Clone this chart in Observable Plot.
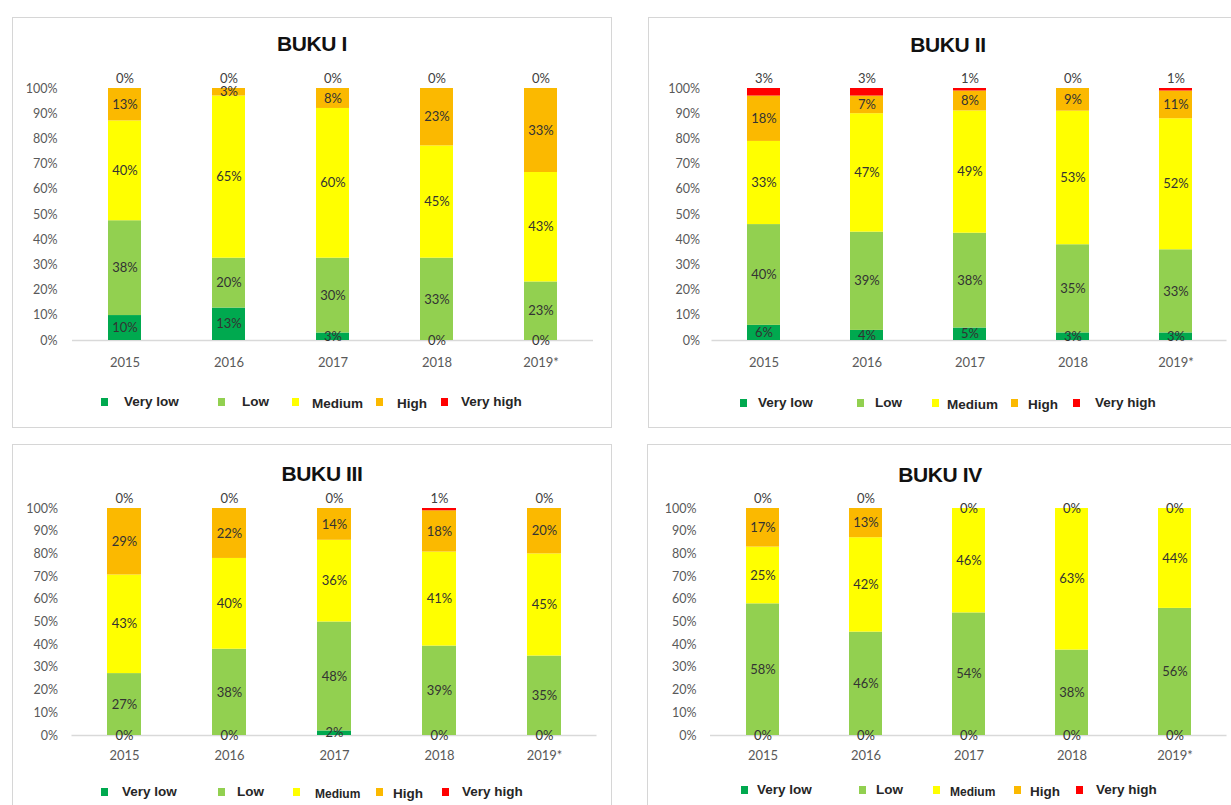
<!DOCTYPE html>
<html><head><meta charset="utf-8">
<script src="https://cdn.jsdelivr.net/npm/d3@7"></script>
<script src="https://cdn.jsdelivr.net/npm/@observablehq/plot@0.6"></script>
<style>
html,body{margin:0;padding:0;background:#fff;width:1231px;height:805px;overflow:hidden;}
#root{position:relative;width:1231px;height:805px;overflow:hidden;}
.panel{position:absolute;border:1.5px solid #d6d6d6;box-sizing:border-box;background:#fff;}
.title{position:absolute;font-family:"Liberation Sans",Arial,sans-serif;font-weight:bold;font-size:21px;color:#111;transform:translate(-50%,-50%);white-space:nowrap;letter-spacing:-0.4px}
.chart{position:absolute;}
.chart svg{max-width:none !important;}
.lg-sq{position:absolute;width:7px;height:8px;transform:translateY(-50%);}
.lg-tx{position:absolute;font-family:"Liberation Sans",Arial,sans-serif;font-weight:bold;font-size:13.5px;color:#262626;transform:translateY(-50%);white-space:nowrap;line-height:1}
</style></head><body><div id="root"></div>
<script>
// ---- data ----
const years = ["2015", "2016", "2017", "2018", "2019*"];
const levels = ["Very low", "Low", "Medium", "High", "Very high"];
const levelColors = ["#00a94f", "#92d050", "#ffff00", "#fbb900", "#ff0000"];
const titles = ["BUKU I", "BUKU II", "BUKU III", "BUKU IV"];
// rows: Very low, Low, Medium, High, Very high ; columns: years
const bukuI = [
  [10, 13, 3, 0, 0],
  [38, 20, 30, 33, 23],
  [40, 65, 60, 45, 43],
  [13, 3, 8, 23, 33],
  [0, 0, 0, 0, 0]
];
const bukuII = [
  [6, 4, 5, 3, 3],
  [40, 39, 38, 35, 33],
  [33, 47, 49, 53, 52],
  [18, 7, 8, 9, 11],
  [3, 3, 1, 0, 1]
];
const bukuIII = [
  [0, 0, 2, 0, 0],
  [27, 38, 48, 39, 35],
  [43, 40, 36, 41, 45],
  [29, 22, 14, 18, 20],
  [0, 0, 0, 1, 0]
];
const bukuIV = [
  [0, 0, 0, 0, 0],
  [58, 46, 54, 38, 56],
  [25, 42, 46, 63, 44],
  [17, 13, 0, 0, 0],
  [0, 0, 0, 0, 0]
];
const panelValues = [bukuI, bukuII, bukuIII, bukuIV];

// ---- layout (positions / styles only) ----
const layouts = [
  {box: [12, 17, 600, 411], title: [312, 44],
   svg: {left: 12, top: 60, w: 600, h: 312, mt: 28, mb: 32, ml: 60, mr: 19, ypad: 15, xpad: 17},
   legendY: 402, medSize: 13.5,
   legendX: [[101, 124], [218, 242], [292, 312], [376, 397], [441, 461]]},
  {box: [648, 17, 600, 411], title: [948, 45],
   svg: {left: 648, top: 60, w: 600, h: 312, mt: 28, mb: 32, ml: 63.5, mr: 21.5, ypad: 12, xpad: 17},
   legendY: 403, medSize: 13.5,
   legendX: [[740, 758], [857, 875], [932, 947], [1011, 1028], [1073, 1095]]},
  {box: [12, 444, 600, 380], title: [322, 474],
   svg: {left: 12, top: 485, w: 600, h: 275, mt: 23, mb: 25, ml: 59.5, mr: 15.5, ypad: 14, xpad: 15},
   legendY: 792, medSize: 12,
   legendX: [[101, 122], [218, 237], [293, 315], [376, 393], [442, 462]]},
  {box: [647, 444, 600, 380], title: [940, 475],
   svg: {left: 647, top: 485, w: 600, h: 275, mt: 23, mb: 25, ml: 63, mr: 20.5, ypad: 14, xpad: 15},
   legendY: 790, medSize: 12,
   legendX: [[741, 757], [859, 876], [933, 950], [1014, 1030], [1076, 1096]]}
];

const root = document.getElementById("root");

function makeChart(values, S) {
  const data = [];
  levels.forEach((lv, i) => years.forEach((yr, j) => data.push({year: yr, level: lv, value: values[i][j]})));
  const topZero = new Set(years.filter((yr, j) => values[3][j] === 0 && values[4][j] === 0));
  const fmt = d => d.value + "%";
  const base = {x: "year", y: "value", z: "level", order: levels, offset: "normalize"};
  return Plot.plot({
    width: S.w, height: S.h,
    marginTop: S.mt, marginBottom: S.mb, marginLeft: S.ml, marginRight: S.mr,
    style: {fontFamily: "Lato, sans-serif", fontSize: "13px", background: "transparent", overflow: "visible", maxWidth: "none"},
    x: {type: "band", domain: years, paddingInner: 0.68, paddingOuter: 0.34},
    y: {domain: [0, 1]},
    color: {domain: levels, range: levelColors},
    marks: [
      Plot.axisY({ticks: d3.range(0, 1.0001, 0.1), tickFormat: d3.format(".0%"), tickSize: 0,
                  tickPadding: S.ypad, fill: "#595959", fontSize: 12.5, label: null}),
      Plot.axisX({tickSize: 0, tickPadding: S.xpad, fill: "#595959", fontSize: 13, label: null}),
      Plot.ruleY([0], {stroke: "#d9d9d9", strokeWidth: 1.5}),
      Plot.barY(data, Plot.stackY({...base, fill: "level"})),
      Plot.text(data, Plot.stackY({...base, fill: "#333",
        text: d => d.level === "Very high" ? "" : fmt(d)})),
      Plot.text(data, Plot.stackY2({...base, fill: "#404040", dy: -10,
        text: d => (d.level === "Very high" && !topZero.has(d.year)) ? fmt(d) : ""}))
    ]
  });
}

layouts.forEach((L, k) => {
  const box = document.createElement("div");
  box.className = "panel";
  Object.assign(box.style, {left: L.box[0] + "px", top: L.box[1] + "px", width: L.box[2] + "px", height: L.box[3] + "px"});
  root.appendChild(box);

  const t = document.createElement("div");
  t.className = "title";
  t.textContent = titles[k];
  Object.assign(t.style, {left: L.title[0] + "px", top: L.title[1] + "px"});
  root.appendChild(t);

  const holder = document.createElement("div");
  holder.className = "chart";
  Object.assign(holder.style, {left: L.svg.left + "px", top: L.svg.top + "px", width: L.svg.w + "px", height: L.svg.h + "px"});
  const svg = makeChart(panelValues[k], L.svg);
  svg.style.maxWidth = "none";
  svg.style.width = L.svg.w + "px";
  svg.style.height = L.svg.h + "px";
  holder.appendChild(svg);
  root.appendChild(holder);

  levels.forEach((lv, i) => {
    const sq = document.createElement("div");
    sq.className = "lg-sq";
    Object.assign(sq.style, {left: L.legendX[i][0] + "px", top: L.legendY + "px", background: levelColors[i]});
    root.appendChild(sq);
    const tx = document.createElement("div");
    tx.className = "lg-tx";
    tx.textContent = lv;
    Object.assign(tx.style, {left: L.legendX[i][1] + "px", top: (L.legendY + (lv === "Medium" || lv === "High" ? 2 : 0)) + "px"});
    if (lv === "Medium") tx.style.fontSize = L.medSize + "px";
    root.appendChild(tx);
  });
});
</script>
</body></html>
